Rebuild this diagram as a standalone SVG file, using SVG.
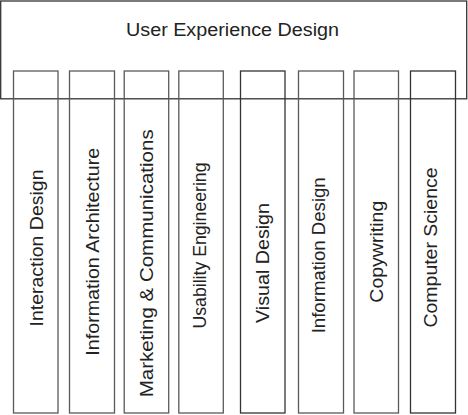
<svg xmlns="http://www.w3.org/2000/svg" width="468" height="415" viewBox="0 0 468 415">
<style>
.box{fill:none;stroke:#5a5a5a;stroke-width:1.3}
.lbl{font-family:"Liberation Sans",Arial,sans-serif;font-size:18px;fill:#222;text-anchor:middle}
</style>
<rect width="468" height="415" fill="#fff"/>
<g id="ux">
<rect class="box" x="0.7" y="1" width="466" height="97.8" style="stroke:#333"/>
<text class="lbl" x="232.5" y="36" textLength="213" lengthAdjust="spacingAndGlyphs">User Experience Design</text>
</g>
<g id="interaction-design">
<rect class="box" x="13.5" y="71" width="44.5" height="342"/>
<text class="lbl" transform="translate(43.3,248) rotate(-90)" textLength="157" lengthAdjust="spacingAndGlyphs">Interaction Design</text>
</g>
<g id="information-architecture">
<rect class="box" x="69.5" y="71" width="45" height="342"/>
<text class="lbl" transform="translate(99.3,251.7) rotate(-90)" textLength="208" lengthAdjust="spacingAndGlyphs">Information Architecture</text>
</g>
<g id="marketing-communications">
<rect class="box" x="124.2" y="71" width="44.5" height="342"/>
<text class="lbl" transform="translate(153.3,263.3) rotate(-90)" textLength="268" lengthAdjust="spacingAndGlyphs">Marketing &amp; Communications</text>
</g>
<g id="usability-engineering">
<rect class="box" x="178.8" y="71" width="44.5" height="342"/>
<text class="lbl" transform="translate(206,245.5) rotate(-90)" textLength="166" lengthAdjust="spacingAndGlyphs">Usability Engineering</text>
</g>
<g id="visual-design">
<rect class="box" x="240.5" y="71" width="44.5" height="342" style="stroke:#333"/>
<text class="lbl" transform="translate(269.3,263) rotate(-90)" textLength="120" lengthAdjust="spacingAndGlyphs">Visual Design</text>
</g>
<g id="information-design">
<rect class="box" x="298.5" y="71" width="45" height="342"/>
<text class="lbl" transform="translate(325,255.3) rotate(-90)" textLength="156" lengthAdjust="spacingAndGlyphs">Information Design</text>
</g>
<g id="copywriting">
<rect class="box" x="354" y="71" width="44.5" height="342"/>
<text class="lbl" transform="translate(383,251.7) rotate(-90)" textLength="102" lengthAdjust="spacingAndGlyphs">Copywriting</text>
</g>
<g id="computer-science">
<rect class="box" x="410.5" y="71" width="45" height="342" style="stroke:#333"/>
<text class="lbl" transform="translate(436.8,247.5) rotate(-90)" textLength="160" lengthAdjust="spacingAndGlyphs">Computer Science</text>
</g>
<g id="connectors"/>
</svg>
